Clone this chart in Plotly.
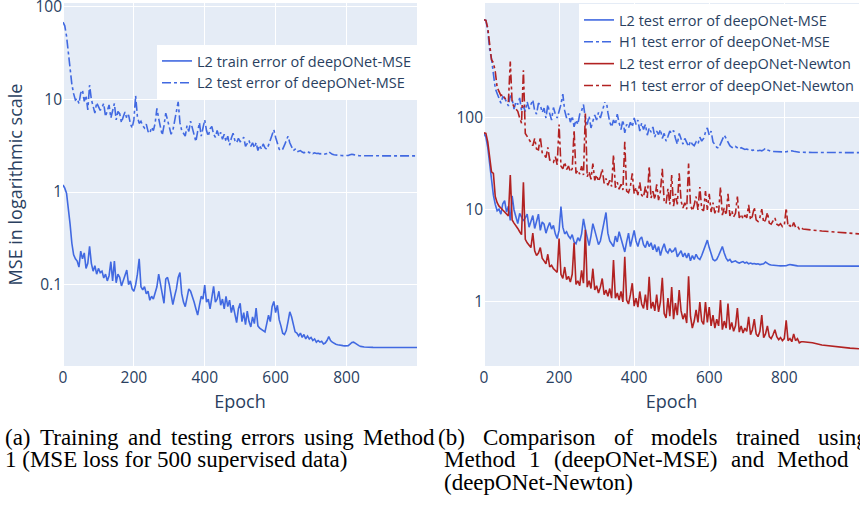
import plotly.graph_objects as go

# ---------------- data ----------------
epochs = list(range(0, 851, 5)) + [875, 900, 925, 950, 975, 999]

train_mse = [
    1.19, 1.1, 0.97, 0.7, 0.45, 0.28, 0.21, 0.19, 0.18, 0.155,
    0.23, 0.19, 0.22, 0.15, 0.17, 0.26, 0.17, 0.14, 0.16, 0.13,
    0.15, 0.135, 0.14, 0.118, 0.13, 0.11, 0.125, 0.177, 0.11, 0.18,
    0.105, 0.13, 0.12, 0.097, 0.11, 0.13, 0.144, 0.1, 0.11, 0.09,
    0.085, 0.1, 0.13, 0.19, 0.095, 0.088, 0.095, 0.08, 0.085, 0.068,
    0.075, 0.07, 0.08, 0.095, 0.13, 0.1, 0.075, 0.063, 0.115, 0.12,
    0.1, 0.08, 0.061, 0.075, 0.09, 0.12, 0.135, 0.08, 0.065, 0.058,
    0.07, 0.09, 0.085, 0.075, 0.065, 0.055, 0.047, 0.06, 0.075, 0.07,
    0.099, 0.065, 0.07, 0.055, 0.075, 0.096, 0.065, 0.07, 0.085, 0.06,
    0.07, 0.055, 0.075, 0.058, 0.068, 0.05, 0.06, 0.05, 0.039, 0.055,
    0.063, 0.04, 0.05, 0.037, 0.052, 0.04, 0.035, 0.045, 0.038, 0.056,
    0.036, 0.034, 0.033, 0.032, 0.031, 0.038, 0.047, 0.04, 0.058, 0.066,
    0.05, 0.06, 0.042, 0.036, 0.03, 0.029, 0.032, 0.04, 0.051, 0.045,
    0.036, 0.031, 0.03, 0.028, 0.03, 0.027, 0.029, 0.026, 0.028, 0.026,
    0.027, 0.025, 0.026, 0.024, 0.025, 0.024, 0.0245, 0.023, 0.0235, 0.025,
    0.0275, 0.025, 0.024, 0.0233, 0.0228, 0.0225, 0.0222, 0.022, 0.022, 0.0219,
    0.0219, 0.022, 0.0228, 0.0238, 0.024, 0.0232, 0.0225, 0.022, 0.0216, 0.0214,
    0.0213, 0.0211, 0.021, 0.021, 0.021, 0.021, 0.021,
]

l2_test_mse = [
    68, 62, 48, 32, 21, 14.5, 11.5, 9.8, 10.2, 9,
    11.7, 12.6, 9.5, 11, 7.7, 14.2, 10, 8.3, 7.1, 9.2,
    8.5, 7.6, 8.2, 9.0, 6.5, 7.8, 8.7, 6.3, 7.5, 9.0,
    6.0, 7.4, 7.0, 5.6, 6.5, 7.3, 6.2, 6.8, 5.5, 4.9,
    6.0, 10.9, 6.5, 5.5, 5.8, 5.2, 4.9, 5.4, 4.5, 4.3,
    5.0, 4.6, 5.5, 8.0, 6.2, 4.8, 4.1, 5.2, 7.1, 6.0,
    5.0, 4.2, 4.6, 6.0, 7.5, 9.4, 5.6, 4.6, 4.3, 4.0,
    5.2, 4.5, 5.8, 4.8, 4.2, 3.5, 4.5, 5.6, 4.0, 4.8,
    6.0, 4.6, 4.0, 4.8, 5.1, 4.2, 3.9, 4.6, 4.0, 4.4,
    3.7, 4.2, 3.5, 4.0, 3.2, 3.8, 4.3, 3.6, 3.4, 3.8,
    3.5, 3.6, 3.9, 3.1, 3.3, 3.6, 3.1, 3.4, 3.0, 3.4,
    2.8, 3.2, 2.9, 3.3, 3.0, 2.9, 3.2, 3.6, 4.2, 4.7,
    3.9, 3.3, 2.9, 2.8, 2.9, 3.2, 3.6, 4.0, 3.4, 3.0,
    2.8, 2.9, 2.7, 2.75, 2.8, 2.7, 2.65, 2.7, 2.75, 2.65,
    2.7, 2.6, 2.65, 2.6, 2.62, 2.58, 2.6, 2.55, 2.58, 2.6,
    2.72, 2.62, 2.55, 2.52, 2.5, 2.5, 2.48, 2.48, 2.47, 2.47,
    2.47, 2.48, 2.52, 2.55, 2.53, 2.5, 2.48, 2.47, 2.46, 2.46,
    2.46, 2.46, 2.45, 2.45, 2.45, 2.45, 2.45,
]

h1_test_mse = [
    1170, 1150, 900, 560, 440, 300, 210, 185, 160, 145,
    170, 165, 150, 135, 175, 160, 125, 150, 140, 165,
    120, 135, 118, 150, 125, 140, 157, 120, 110, 145,
    138, 115, 128, 100, 140, 112, 95, 130, 110, 100,
    120, 140, 182, 120, 100, 112, 90, 105, 80, 95,
    85, 110, 120, 140, 100, 85, 105, 78, 92, 108,
    95, 115, 100, 120, 135, 165, 115, 90, 80, 95,
    85, 110, 88, 75, 95, 69, 85, 78, 90, 80,
    100, 85, 95, 72, 88, 75, 85, 65, 78, 70,
    80, 62, 72, 66, 75, 60, 68, 56, 63, 72,
    68, 73, 60, 52, 68, 58, 52, 60, 55, 49,
    56, 52, 50, 55, 52, 62, 56, 60, 70, 78,
    65, 72, 55, 51, 48, 47, 52, 58, 65, 60,
    54, 50, 48, 47, 49, 47, 46, 47.5, 46, 45.5,
    46, 45, 45.5, 44.5, 45, 44.5, 44, 44.5, 44, 45,
    47, 45, 44, 43.5, 43.2, 43, 43, 42.8, 42.8, 42.7,
    42.7, 43, 43.6, 44, 44, 43.5, 43, 42.7, 42.5, 42.4,
    42.3, 42.2, 42.2, 42.1, 42.1, 42.0, 42.0,
]

l2_test_newton = [
    69, 68, 55, 35, 26, 25, 14, 12, 11, 10.5,
    10, 9.5, 9.2, 8.6, 24, 7.8, 7.2, 6.8, 6.3, 5.8,
    5.4, 20, 4.8, 4.4, 4.1, 3.9, 5.6, 3.6, 3.2, 3.4,
    3.9, 3.0, 2.8, 2.6, 3.3, 2.4, 2.5, 2.3, 2.2, 2.1,
    4.9, 2.0, 1.8, 2.4, 1.75, 1.9, 1.65, 2.0, 4.4, 1.55,
    1.7, 1.5, 2.2, 1.6, 6.1, 1.45, 1.7, 1.4, 2.3, 1.35,
    1.5, 1.25, 1.45, 1.8, 1.2, 1.35, 1.15, 1.4, 1.1, 2.85,
    1.1, 1.25, 1.05, 1.3, 1.0, 3.1, 1.05, 0.95, 1.2, 1.6,
    0.9, 1.1, 0.88, 1.3, 0.95, 0.85, 1.2, 0.82, 1.88, 0.85,
    1.0, 0.8, 1.2, 0.78, 1.0, 1.83, 0.75, 0.67, 1.1, 0.7,
    1.45, 0.65, 0.97, 0.72, 1.35, 0.8, 0.65, 0.75, 0.59, 1.9,
    0.7, 0.52, 0.62, 0.82, 0.6, 1.0, 0.62, 0.57, 1.0, 0.6,
    0.88, 0.55, 0.72, 0.52, 0.65, 0.55, 1.05, 0.5, 0.62, 0.52,
    0.96, 0.5, 0.6, 0.48, 0.55, 0.86, 0.47, 0.55, 0.46, 0.52,
    0.48, 0.69, 0.44, 0.5, 0.65, 0.45, 0.42, 0.48, 0.72, 0.41,
    0.45, 0.55, 0.42, 0.4, 0.44, 0.5, 0.42, 0.39, 0.41, 0.38,
    0.4, 0.63, 0.38, 0.4, 0.37, 0.45, 0.38, 0.4, 0.36, 0.37,
    0.37, 0.36, 0.34, 0.33, 0.32, 0.315, 0.31,
]

h1_test_newton = [
    1170, 1150, 950, 600, 430, 400, 320, 215, 190, 175,
    180, 165, 158, 150, 410, 145, 133, 125, 118, 100,
    88, 330, 68, 63, 58, 55, 50, 60, 46, 45,
    62, 42, 40, 37, 48, 35, 34, 33, 38, 31,
    85, 30, 28, 33, 27.5, 30, 26, 28, 74, 25,
    27, 24.5, 30, 24, 112, 23, 26, 21.5, 32, 21,
    24, 20.5, 23, 28, 19.5, 22, 18.6, 21, 18, 40,
    17.5, 20, 16.8, 19, 16.5, 55, 16, 15.4, 18, 25,
    15, 17.5, 14.5, 20, 14.5, 13.8, 18, 13.5, 30, 13.5,
    16, 13, 19, 12.8, 16, 28, 12.3, 11.8, 17, 11.5,
    24, 11, 15, 11.5, 25, 12.5, 10.5, 12, 10.2, 32,
    11.5, 9.8, 11.4, 14, 10, 17.8, 10.2, 9.8, 16, 10,
    15, 9.5, 12, 9.2, 11, 9.4, 17.8, 8.8, 10.5, 8.8,
    15, 8.6, 9.8, 8.4, 9.2, 14, 8.2, 9, 8, 8.8,
    8.2, 11.4, 7.8, 8.6, 10.7, 7.8, 7.5, 8.3, 10.2, 7.3,
    7.8, 9.4, 7.2, 7.0, 7.6, 8.2, 7.0, 6.8, 7.1, 6.6,
    6.8, 10.5, 6.6, 6.8, 6.4, 7.3, 6.5, 6.7, 6.2, 6.4,
    6.2, 6.0, 5.9, 5.8, 5.7, 5.6, 5.5,
]

for arr in (train_mse, l2_test_mse, h1_test_mse, l2_test_newton, h1_test_newton):
    assert len(arr) == len(epochs), (len(arr), len(epochs))

# ---------------- figure ----------------
BLUE = "royalblue"
RED = "firebrick"
LW = 1.6
W, H = 860, 505

fig = go.Figure()

fig.add_trace(go.Scatter(x=epochs, y=train_mse, mode="lines",
                         name="L2 train error of deepONet-MSE",
                         line=dict(color=BLUE, width=LW), xaxis="x", yaxis="y",
                         legend="legend"))
fig.add_trace(go.Scatter(x=epochs, y=l2_test_mse, mode="lines",
                         name="L2 test error of deepONet-MSE",
                         line=dict(color=BLUE, width=LW, dash="dashdot"),
                         xaxis="x", yaxis="y", legend="legend"))

fig.add_trace(go.Scatter(x=epochs, y=l2_test_mse, mode="lines",
                         name="L2 test error of deepONet-MSE",
                         line=dict(color=BLUE, width=LW), xaxis="x2", yaxis="y2",
                         legend="legend2"))
fig.add_trace(go.Scatter(x=epochs, y=h1_test_mse, mode="lines",
                         name="H1 test error of deepONet-MSE",
                         line=dict(color=BLUE, width=LW, dash="dashdot"),
                         xaxis="x2", yaxis="y2", legend="legend2"))
fig.add_trace(go.Scatter(x=epochs, y=l2_test_newton, mode="lines",
                         name="L2 test error of deepONet-Newton",
                         line=dict(color=RED, width=LW), xaxis="x2", yaxis="y2",
                         legend="legend2"))
fig.add_trace(go.Scatter(x=epochs, y=h1_test_newton, mode="lines",
                         name="H1 test error of deepONet-Newton",
                         line=dict(color=RED, width=LW, dash="dashdot"),
                         xaxis="x2", yaxis="y2", legend="legend2"))

ydom = [1 - 366 / H, 1 - 3 / H]
tickfont = dict(size=15.5, color="#2a3f5f")
titlefont = dict(size=18, color="#2a3f5f")
common = dict(automargin=False, ticklabeloverflow="allow", tickfont=tickfont)

fig.update_layout(
    width=W, height=H, autosize=False,
    margin=dict(l=0, r=0, t=0, b=0, autoexpand=False),
    template="plotly",
    font=dict(family="Open Sans", size=15.5, color="#2a3f5f"),
    paper_bgcolor="white",
    plot_bgcolor="#E5ECF6",
    xaxis=dict(domain=[63 / W, 417 / W], range=[0, 999], anchor="y",
               tickvals=[0, 200, 400, 600, 800],
               title=dict(text="Epoch", font=titlefont, standoff=8), **common),
    yaxis=dict(domain=ydom, type="log", range=[-1.877, 2.039], anchor="x",
               tickvals=[0.1, 1, 10, 100], ticktext=["0.1", "1", "10", "100"],
               title=dict(text="MSE in logarithmic scale", font=titlefont,
                          standoff=8), **common),
    xaxis2=dict(domain=[484 / W, 859 / W], range=[0, 999], anchor="y2",
                tickvals=[0, 200, 400, 600, 800],
                title=dict(text="Epoch", font=titlefont, standoff=8), **common),
    yaxis2=dict(domain=ydom, type="log", range=[-0.696, 3.25], anchor="x2",
                tickvals=[1, 10, 100], ticktext=["1", "10", "100"], **common),
    legend=dict(x=417 / W, xanchor="right", y=1 - 45 / H, yanchor="top",
                bgcolor="white", font=dict(size=14.5)),
    legend2=dict(x=859 / W, xanchor="right", y=1 - 4 / H, yanchor="top",
                 bgcolor="white", font=dict(size=14.5)),
)

# ---------------- captions ----------------
CAP = dict(family="Liberation Serif", size=23, color="black")
caption_words = [
    (437, [("(a)", 4), ("Training", 38.8), ("and", 127.3), ("testing", 169.8),
           ("errors", 240.4), ("using", 303.3), ("Method", 362.4),
           ("(b)", 437), ("Comparison", 482), ("of", 612.8), ("models", 650.3),
           ("trained", 735), ("using", 817.2)]),
    (459, [("Method", 443), ("1", 528), ("(deepONet-MSE)", 553), ("and", 730),
           ("Method", 776.4)]),
]
caption_lines = [
    (459, 4, "1 (MSE loss for 500 supervised data)"),
    (482, 443, "(deepONet-Newton)"),
]
for ypx, words in caption_words:
    for word, xpx in words:
        fig.add_annotation(text=word, x=xpx / W, y=1 - ypx / H, xref="paper",
                           yref="paper", xanchor="left", yanchor="middle",
                           showarrow=False, borderpad=0, font=CAP)
for ypx, xpx, line in caption_lines:
    fig.add_annotation(text=line, x=xpx / W, y=1 - ypx / H, xref="paper",
                       yref="paper", xanchor="left", yanchor="middle",
                       showarrow=False, borderpad=0, font=CAP)

# remove the browser's default 8px page margin so the figure sits at (0, 0)
fig.write_html(
    "out.html",
    config={"displayModeBar": False},
    post_script="document.body.style.margin='0';"
                "document.body.style.overflow='hidden';",
)
